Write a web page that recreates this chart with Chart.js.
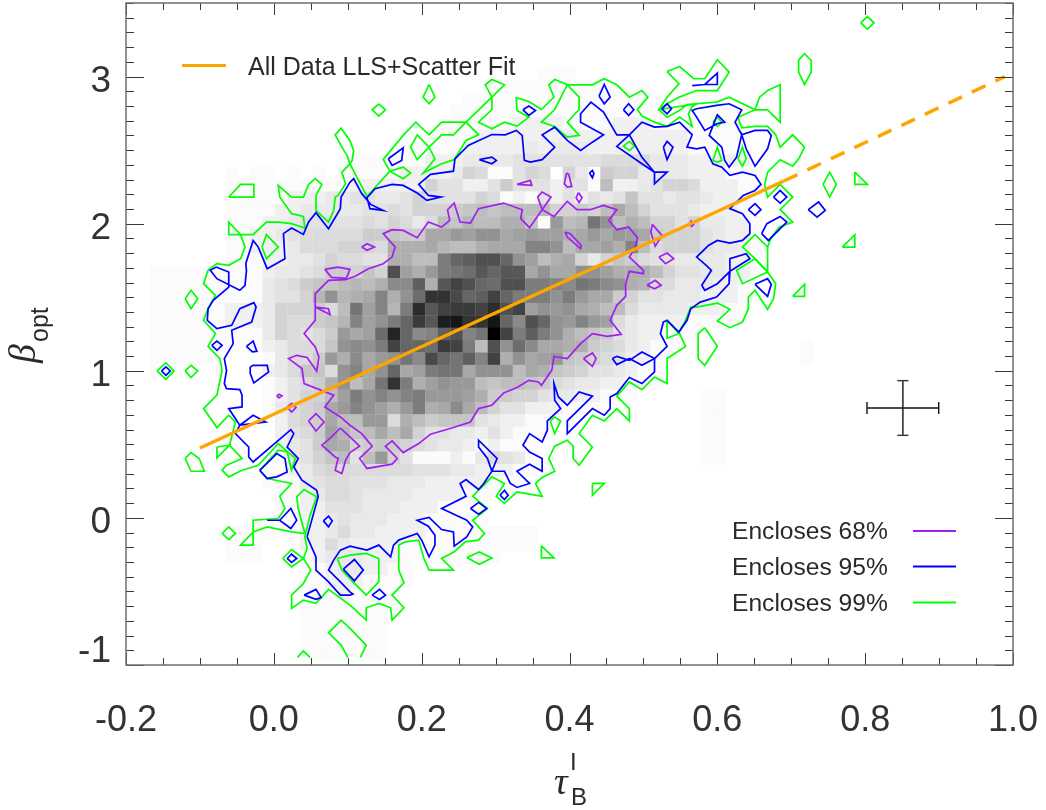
<!DOCTYPE html>
<html>
<head>
<meta charset="utf-8">
<title>Optical slope against Balmer optical depth</title>
<script src="https://cdn.jsdelivr.net/npm/chart.js@4/dist/chart.umd.js"></script>
<style>
  html, body { margin: 0; padding: 0; background: #fff; }
  canvas { display: block; }
</style>
</head>
<body>
<canvas id="chart" width="1046" height="810"></canvas>
<script>
// axis labels and ticks
var xMajorTicks = [-0.2, 0.0, 0.2, 0.4, 0.6, 0.8, 1.0];
var yMajorTicks = [-1, 0, 1, 2, 3];
var yTickLabels = ["-1", "0", "1", "2", "3"];
var yTickLabelAt = [-0.878, 0, 1, 2, 3]; // the -1 label sits above its tick in the original

// fit line and typical error bar
var fitSolid = [[-0.1, 0.475], [0.69, 2.29]];
var fitDashed = [[0.69, 2.29], [0.989, 3.0]];
var errCentre = [0.851, 0.747];
var errSize = [0.0485, 0.186];

// density image: darkness per bin, base 36, one row per beta bin, top row first
var densityXFirst = -0.159, densityXStep = 0.016925;
var densityYFirst = 3.018, densityYStep = -0.0842;
var densityRows = [
  "0000000000 0000000000 0000000000 0111000000 0000000000 0000",
  "0000000000 0000000000 0000000111 1111111111 0000000000 0000",
  "0000000000 0000000000 0000011111 1111111111 1111110000 0000",
  "0000000000 0000000000 0000111111 1111111111 1111111000 0000",
  "0000000000 0000000000 0001111112 2221111222 1111111000 0000",
  "0000000000 0000000000 0011112222 2222222222 2221111100 0000",
  "0000000000 0000000000 0111122222 3233322222 2221111100 0000",
  "0000000000 0000011111 1122233334 4444445555 3332222210 0000",
  "0000001011 0101011111 2222365114 6506307663 3332221110 0000",
  "0000001111 1111112222 2264422474 4424419223 4665222110 0000",
  "0000001111 1222334433 4644446512 1424243484 4344322100 0000",
  "0000001111 2233333445 4666789899 9966769c96 4443222100 0000",
  "0000001112 2344444546 53598a99bb 81e9ajf9b9 6646332210 0000",
  "0000001122 3455555778 77ccedffcd eddbcecedc 7666432210 0000",
  "0000001122 235556665b bbca99bccc hhf9ccdbh9 5666433210 0000",
  "0000001112 233465544b b99ilmoolf d9bc636875 4433332210 0000",
  "1111111112 334577686o dbeijknlnn cfccffdbbb 9644332210 0000",
  "1111111113 457889a9bg gmbnqolkoo iihgjigfba 5533322110 0000",
  "1111111113 446afabchb fkssplmqli iifiecc764 4333222110 0000",
  "1111112223 666759jdha itnqrrqtoq dfefcb9953 3332221100 0000",
  "1111112223 65578ahdfi lrnvwsswlg olfehed532 2221111000 0000",
  "1111111113 65457ecdku lghmohjzqi mifb987432 2111000000 0000",
  "1111111112 35558fgfiq llkrqi9ofk gccbb76532 1110000000 0010",
  "1111100001 3557ebgcef jgpljmhqbf cde8765422 1100000000 0010",
  "1000000012 35885fhcfl cdijjcfff9 cb87644321 1100000000 0000",
  "0000000001 2457bf9cjs ibdfee9899 8754332211 1000000000 0000",
  "0000000001 24669difhf hieeedb776 6433221110 0000110000 0000",
  "0000000001 3567cehfdb eibcgc9644 2221110000 0000110000 0000",
  "0000000001 2567c99ee5 b978884322 1111000000 0000110000 0000",
  "0000000000 2457da89c9 c644332421 1100000000 0000110000 0000",
  "0000000000 2347cb6787 6543321211 1000000000 0000110000 0000",
  "0000000000 13468949e6 4111213543 1000000000 0000110000 0000",
  "0000000001 1235655555 5444332221 1000000000 0000000000 0000",
  "0000000001 1134554443 3322222111 0000000000 0000000000 0000",
  "0000000000 1123554333 3222211110 0000000000 0000000000 0000",
  "0000000000 1122444333 2221111000 0000000000 0000000000 0000",
  "0000000011 1122343332 2211111000 0000000000 0000000000 0000",
  "0000001111 1122353322 2211111111 1000000000 0000000000 0000",
  "0000001110 0122532222 1111111111 1000000000 0000000000 0000",
  "0000001110 0112333222 1111111100 0000000000 0000000000 0000",
  "0000000000 0011233221 1000000000 0000000000 0000000000 0000",
  "0000000000 0011222111 1000000000 0000000000 0000000000 0000",
  "0000000000 0011121111 0000000000 0000000000 0000000000 0000",
  "0000000000 0011111111 0000000000 0000000000 0000000000 0000",
  "0000000000 0011111110 0000000000 0000000000 0000000000 0000",
  "0000000000 0011111110 0000000000 0000000000 0000000000 0000",
  "0000000000 0011111110 0000000000 0000000000 0000000000 0000",
  "0000000000 0011111110 0000000000 0000000000 0000000000 0000"
];

// contours, each a flat x,y,x,y list in data units
var purpleLoops = [
  [.128,1.694,.148,1.728,.160,1.773,.164,1.841,.148,1.932,.160,1.959,.175,1.954,.194,1.905,.209,2.011,.227,1.977,.238,2.022,.235,2.095,.244,2.140,.252,2.011,.266,2.004,.277,2.102,.311,2.140,.336,2.095,.334,2.034,.346,1.973,.363,2.095,.357,2.181,.363,2.215,.375,2.181,.363,2.095,.379,2.049,.397,2.151,.410,2.095,.428,2.095,.446,2.124,.464,2.095,.453,2.022,.464,1.959,.480,1.977,.492,1.905,.489,1.841,.481,1.773,.500,1.683,.500,1.660,.481,1.676,.476,1.592,.476,1.506,.464,1.445,.455,1.343,.470,1.248,.451,1.234,.431,1.253,.415,1.185,.397,1.083,.379,1.098,.376,1.003,.362,.901,.358,.924,.345,.935,.329,.886,.311,.849,.295,.766,.277,.743,.266,.652,.243,.614,.212,.569,.196,.505,.175,.444,.160,.523,.151,.487,.167,.404,.160,.365,.126,.336,.116,.404,.133,.487,.119,.573,.103,.630,.090,.686,.069,.754,.081,.834,.041,.913,.038,1.015,.020,1.083,.031,1.105,.045,1.090,.058,.997,.061,1.094,.056,1.162,.041,1.253,.056,1.343,.056,1.524,.074,1.615,.097,1.619,.110,1.642],
  [.069,1.689,.087,1.705,.103,1.689,.098,1.628,.078,1.635],
  [.090,.611,.103,.550,.116,.487,.103,.444,.097,.392,.092,.302,.083,.324,.087,.406,.083,.414,.065,.494,.076,.541],
  [.119,1.841,.126,1.864,.136,1.841,.126,1.819],
  [.329,2.267,.347,2.294,.349,2.260],
  [.396,2.344,.399,2.335,.403,2.253,.397,2.249,.393,2.272],
  [.412,2.211,.417,2.177,.413,2.143,.409,2.177],
  [.394,1.943,.401,1.932,.416,1.852,.415,1.830,.397,1.909],
  [.512,1.995,.525,1.920,.516,1.846,.510,1.943],
  [.521,1.773,.532,1.800,.541,1.762,.530,1.728],
  [.564,2.022,.568,1.995,.565,1.982],
  [.505,1.581,.516,1.615,.524,1.581,.515,1.558],
  [.419,1.083,.431,1.121,.436,1.083,.431,1.030],
  [.056,1.433,.074,1.422,.076,1.382],
  [.004,.829,.007,.840,.011,.829,.007,.815],
  [.018,.754,.024,.777,.030,.750,.024,.720],
  [.047,.659,.057,.709,.068,.652,.057,.591]
];

var blueLoops = [
  [.045,-.129,.060,.143,.058,.188,.038,.256,.027,.346,.033,.404,.018,.482,.027,.573,.023,.600,-.028,.380,-.034,.414,-.034,.482,-.052,.573,-.046,.630,-.061,.743,-.043,.754,-.043,.834,-.046,.872,-.064,.879,-.067,.913,-.064,1.003,-.067,1.083,-.055,1.185,-.057,1.275,-.030,1.331,-.024,1.433,-.027,1.463,-.046,1.422,-.057,1.309,-.077,1.287,-.090,1.343,-.089,1.422,-.082,1.479,-.061,1.569,-.061,1.671,-.078,1.705,-.086,1.683,-.077,1.626,-.046,1.547,-.039,1.581,-.037,1.683,-.038,1.728,-.028,1.886,-.021,1.841,-.009,1.694,.015,1.762,.013,1.932,.024,1.970,.040,1.927,.047,2.011,.057,2.075,.074,1.966,.090,2.102,.091,2.181,.103,2.282,.108,2.306,.119,2.204,.131,2.131,.148,2.090,.130,2.102,.126,2.176,.137,2.238,.160,2.267,.175,2.260,.194,2.208,.207,2.158,.226,2.181,.209,2.192,.196,2.267,.212,2.335,.243,2.357,.245,2.441,.263,2.532,.295,2.606,.313,2.604,.328,2.634,.336,2.600,.339,2.430,.347,2.418,.363,2.435,.380,2.520,.363,2.604,.380,2.656,.397,2.566,.415,2.498,.431,2.554,.446,2.604,.415,2.690,.415,2.747,.429,2.826,.446,2.758,.464,2.604,.481,2.604,.498,2.690,.515,2.656,.532,2.661,.549,2.690,.566,2.604,.559,2.520,.572,2.509,.583,2.520,.594,2.407,.606,2.384,.617,2.328,.634,2.350,.651,2.328,.659,2.267,.651,2.226,.635,2.192,.617,2.102,.634,2.068,.644,2.000,.644,1.932,.634,1.886,.617,1.868,.600,1.886,.588,1.852,.572,1.773,.585,1.717,.592,1.683,.579,1.581,.583,1.547,.600,1.592,.616,1.671,.617,1.762,.639,1.796,.644,1.762,.617,1.676,.616,1.592,.599,1.501,.577,1.467,.564,1.422,.559,1.343,.548,1.263,.532,1.343,.527,1.331,.523,1.253,.532,1.166,.515,1.083,.515,.992,.498,.913,.481,.954,.464,.845,.455,.822,.455,.743,.447,.698,.431,.743,.397,.573,.397,.659,.431,.827,.413,.856,.397,.766,.385,.822,.379,.913,.380,.800,.388,.743,.370,.659,.370,.596,.363,.516,.346,.573,.337,.494,.346,.448,.363,.404,.363,.317,.346,.365,.329,.317,.346,.234,.329,.207,.320,.234,.312,.317,.295,.317,.302,.404,.277,.528,.277,.482,.289,.404,.295,.317,.284,.234,.277,.193,.260,.261,.252,.234,.260,.147,.227,.064,.261,-.016,.269,-.061,.261,-.129,.255,-.151,.244,-.192,.243,-.095,.227,-.079,.210,.003,.194,-.016,.209,-.056,.218,-.118,.218,-.185,.210,-.265,.200,-.151,.194,-.106,.169,-.151,.162,-.185,.158,-.265,.142,-.185,.126,-.219,.103,-.192,.090,-.219,.081,-.287,.074,-.355,.090,-.435,.103,-.503,.107,-.518,.103,-.525,.090,-.525,.074,-.435,.057,-.355,.057,-.265],
  [.481,2.604,.464,2.525,.498,2.407,.515,2.350,.515,2.271,.532,2.350,.515,2.350,.498,2.452],
  [-.046,.630,-.028,.698,-.011,.652],
  [.572,2.781,.599,2.804,.616,2.815,.633,2.774,.624,2.690,.633,2.604,.651,2.634,.668,2.634,.673,2.600,.668,2.509,.651,2.391,.639,2.509,.633,2.604,.626,2.452,.616,2.384,.610,2.430,.606,2.520,.589,2.600,.600,2.740,.610,2.690,.600,2.681,.583,2.634,.572,2.724,.566,2.770],
  [.155,2.441,.175,2.516,.173,2.430,.160,2.396],
  [.278,2.435,.295,2.452,.301,2.430,.295,2.407],
  [.337,2.774,.345,2.799,.354,2.769,.345,2.736],
  [.440,2.867,.447,2.946,.455,2.860,.447,2.815],
  [.473,2.774,.480,2.815,.487,2.774,.480,2.736],
  [.525,2.781,.532,2.815,.538,2.781,.532,2.747],
  [.527,2.520,.532,2.559,.540,2.520,.532,2.435],
  [.427,2.344,.431,2.362,.433,2.340,.431,2.312],
  [.566,2.939,.583,2.946,.600,3.023,.600,2.946,.583,2.946],
  [.676,2.181,.685,2.226,.694,2.181,.685,2.140],
  [.642,2.095,.651,2.136,.659,2.095,.651,2.056],
  [.723,2.095,.737,2.147,.746,2.090,.735,2.045],
  [.660,1.932,.667,2.000,.685,2.049,.694,2.011,.669,1.886],
  [.651,1.588,.668,1.626,.673,1.588,.668,1.506],
  [.266,.064,.277,.105,.288,.064,.277,.025],
  [.306,.154,.312,.188,.317,.154,.312,.125],
  [.458,1.083,.464,1.098,.481,1.071,.498,1.128,.515,1.083,.498,1.038,.481,1.083,.464,1.042],
  [.094,-.348,.109,-.283,.121,-.355,.109,-.428],
  [.133,-.525,.143,-.486,.151,-.525,.143,-.554],
  [.018,-.276,.024,-.247,.031,-.276,.024,-.303],
  [.041,-.525,.057,-.486,.064,-.541,.057,-.554],
  [-.019,.323,.004,.437,.015,.404,.018,.312,.004,.279,-.009,.268],
  [-.009,-.016,.008,-.016,.023,.064,.031,-.016,.023,-.072,.008,-.016],
  [.067,-.020,.074,.012,.079,-.020,.074,-.061],
  [-.032,1.026,-.028,1.037,-.009,1.037,-.007,.992,-.027,.917,-.032,.983],
  [-.037,1.166,-.028,1.202,-.023,1.132,-.029,1.128],
  [-.084,1.173,-.077,1.202,-.070,1.173,-.077,1.139],
  [-.152,.999,-.146,1.026,-.140,.999,-.146,.969]
];

var greenLoops = [
  [-.089,1.683,-.095,1.592,-.079,1.513,-.089,1.422,-.095,1.343,-.079,1.253,-.089,1.166,-.073,1.083,-.070,1.003,-.077,.834,-.095,.743,-.077,.614,-.061,.698,-.052,.652,-.060,.494,-.043,.404,-.064,.358,-.070,.324,-.061,.279,-.043,.324,-.021,.358,.006,.505,.029,.404,.024,.324,.018,.448,.006,.460,-.019,.324,-.009,.268,.024,.234,.008,.147,.015,.064,.006,-.004,-.028,-.016,-.028,-.185,-.045,-.185,-.028,-.095,-.009,-.061,.024,-.095,.042,-.106,.033,.064,.031,.143,.041,.193,.058,.143,.049,.018,.042,-.129,.045,-.208,.040,-.276,.050,-.355,.040,-.446,.024,-.525,.024,-.615,.040,-.559,.057,-.581,.074,-.486,.103,-.593,.108,-.615,.125,-.695,.125,-.611,.142,-.581,.158,-.611,.160,-.695,.176,-.611,.160,-.525,.176,-.442,.169,-.355,.169,-.185,.178,-.163,.196,-.151,.203,-.276,.210,-.355,.243,-.355,.227,-.276,.244,-.231,.259,-.163,.277,-.151,.285,-.106,.269,-.016,.289,.064,.269,.147,.295,.279,.312,.234,.301,.147,.312,.098,.329,.177,.363,.147,.354,.234,.363,.274,.380,.317,.372,.404,.380,.487,.397,.528,.405,.487,.405,.404,.413,.358,.431,.482,.413,.573,.431,.698,.447,.659,.464,.743,.481,.659,.481,.743,.464,.827,.481,.924,.498,.872,.515,.958,.532,.913,.532,1.083,.557,1.166,.548,1.263,.557,1.343,.564,1.433,.572,1.433,.600,1.460,.617,1.418,.600,1.338,.617,1.293,.634,1.331,.642,1.422,.642,1.501,.651,1.547,.668,1.418,.676,1.490,.679,1.592,.668,1.671,.651,1.762,.634,1.841,.651,1.925,.668,1.841,.673,1.907,.684,1.977,.702,2.011,.685,2.095,.702,2.181,.685,2.267,.668,2.181,.664,2.267,.668,2.350,.685,2.435,.702,2.391,.710,2.441,.718,2.520,.702,2.604,.685,2.520,.679,2.604,.668,2.661,.651,2.661,.633,2.652,.628,2.724,.651,2.774,.668,2.774,.685,2.690,.685,2.944,.668,2.905,.657,2.860,.651,2.774,.616,2.860,.599,2.826,.572,2.815,.566,2.797,.561,2.747,.566,2.661,.549,2.724,.532,2.661,.515,2.690,.498,2.731,.492,2.776,.506,2.860,.498,2.905,.481,2.860,.464,2.944,.447,2.985,.431,2.944,.397,2.944,.413,2.860,.413,2.776,.397,2.690,.413,2.600,.397,2.588,.380,2.661,.362,2.690,.380,2.776,.397,2.944,.380,2.980,.372,2.944,.379,2.860,.362,2.776,.345,2.831,.328,2.856,.329,2.770,.345,2.724,.329,2.663,.312,2.690,.295,2.645,.277,2.690,.295,2.776,.295,2.860,.286,2.944,.295,2.980,.312,2.944,.295,2.860,.260,2.690,.227,2.690,.210,2.604,.192,2.690,.175,2.600,.148,2.437,.157,2.357,.126,2.185,.110,2.339,.103,2.407,.092,2.350,.097,2.272,.087,2.192,.083,2.181,.081,2.090,.074,2.011,.057,2.090,.057,2.192,.065,2.267,.056,2.306,.047,2.267,.040,2.181,.024,2.181,.006,2.260,.008,2.181,.024,2.068,.040,2.049,.042,1.970,.024,2.000,.006,2.011,-.010,2.011,-.028,1.925,-.061,1.925,-.061,2.011,-.045,1.925,-.039,1.841,-.045,1.762,-.061,1.717,-.077,1.728],
  [.103,2.407,.099,2.464,.092,2.520,.083,2.604,.091,2.649,.103,2.564,.108,2.498,.106,2.430],
  [.260,2.690,.277,2.604,.260,2.566,.244,2.435,.227,2.407,.202,2.344,.218,2.441,.210,2.520,.194,2.604,.185,2.520,.194,2.435,.210,2.520,.227,2.604,.243,2.604],
  [.157,2.357,.175,2.384,.185,2.344,.175,2.306],
  [.532,3.034,.549,3.068,.568,2.985,.583,2.985,.600,3.114,.616,3.030,.600,2.905,.572,2.905,.548,2.860,.532,2.815,.521,2.776,.532,2.724,.549,2.770,.559,2.810,.572,2.815,.521,2.776,.532,2.860,.548,2.951],
  [.142,2.815,.151,2.774,.142,2.731,.133,2.774],
  [.210,2.946,.218,2.860,.210,2.815,.202,2.860],
  [.481,2.559,.488,2.527,.481,2.498,.473,2.527],
  [.794,3.365,.803,3.408,.812,3.365,.803,3.322],
  [.710,3.114,.718,3.155,.727,3.109,.727,3.030,.718,2.946,.710,3.030],
  [.743,2.267,.752,2.350,.761,2.267,.752,2.181],
  [.786,2.350,.803,2.267,.786,2.267],
  [.769,1.841,.786,1.925,.786,1.841],
  [.594,2.430,.600,2.520,.606,2.430,.600,2.418],
  [.628,2.441,.634,2.520,.639,2.441,.634,2.391],
  [.594,2.690,.600,2.724,.606,2.690,.600,2.661],
  [-.061,2.181,-.045,2.267,-.027,2.267,-.027,2.181],
  [-.016,1.841,-.010,1.925,.006,1.841,-.010,1.762],
  [-.120,1.490,-.112,1.547,-.103,1.490,-.112,1.422],
  [-.120,.404,-.112,.444,-.101,.404,-.094,.317,-.112,.317],
  [.012,-.276,.024,-.215,.040,-.276,.024,-.333],
  [-.070,-.106,-.061,-.061,-.052,-.106,-.061,-.147],
  [-.158,.999,-.146,1.053,-.135,.999,-.146,.942],
  [-.120,.999,-.112,1.037,-.103,.999,-.112,.954],
  [-.077,.482,-.060,.494,-.077,.408],
  [.374,.659,.380,.686,.388,.659,.380,.573],
  [.431,.234,.447,.234,.431,.154],
  [.702,1.506,.718,1.588,.718,1.506],
  [.583,1.293,.600,1.166,.583,1.037,.574,1.083,.574,1.253],
  [.261,-.269,.278,-.231,.295,-.272,.278,-.315],
  [.362,-.190,.379,-.272,.362,-.272],
  [.086,-.276,.103,-.253,.125,-.242,.142,-.276,.142,-.435,.125,-.525,.107,-.435,.092,-.355],
  [.651,1.762,.626,1.683,.634,1.592,.668,1.671,.668,1.841,.668,1.671],
  [.532,1.343,.532,1.221,.548,1.254]
];

var greenOpen = [
  [.100,-.948,.091,-.865,.074,-.781,.091,-.695,.103,-.751,.125,-.865,.117,-.948],
  [.032,-.948,.040,-.905,.049,-.948]
];

var ORANGE = "#ffa500", PURPLE = "#a020f0", BLUE = "#0000ff", GREEN = "#00ff00";
var TEXT = "#2a2a2a", AXIS = "#6e6e6e", TICK = "#3a3a3a";
var SANS = '"Liberation Sans", Arial, sans-serif';
var SERIF = '"Liberation Serif", "Times New Roman", serif';

function densityPoints() {
  var pts = [], colors = [];
  densityRows.forEach(function (row, r) {
    row.replace(/ /g, "").split("").forEach(function (c, i) {
      var level = parseInt(c, 36);
      if (!level) return;
      // the palest bins are barely off white in the original
      var g = level === 1 ? 251 : 255 - Math.round(level * 255 / 35);
      pts.push({ x: densityXFirst + i * densityXStep, y: densityYFirst + r * densityYStep });
      colors.push("rgb(" + g + "," + g + "," + g + ")");
    });
  });
  return { type: "scatter", data: pts, pointStyle: "rect", pointRadius: 9, pointHoverRadius: 9,
    pointBorderWidth: 0, pointBackgroundColor: colors, showLine: false, order: 10 };
}

function pathDataset(flat, closed, color, order) {
  var pts = [];
  for (var i = 0; i < flat.length; i += 2) pts.push({ x: flat[i], y: flat[i + 1] });
  if (closed) pts.push(pts[0]);
  return lineDataset(pts, color, 1.7, order);
}

function lineDataset(pts, color, width, order, dash) {
  return { type: "scatter", data: pts, showLine: true, fill: false, tension: 0, pointRadius: 0,
    borderColor: color, borderWidth: width, borderDash: dash || [], order: order };
}

function pairs(list) {
  return list.map(function (p) { return { x: p[0], y: p[1] }; });
}

var datasets = [densityPoints()];
greenLoops.forEach(function (p) { datasets.push(pathDataset(p, true, GREEN, 4)); });
greenOpen.forEach(function (p) { datasets.push(pathDataset(p, false, GREEN, 4)); });
blueLoops.forEach(function (p) { datasets.push(pathDataset(p, true, BLUE, 3)); });
purpleLoops.forEach(function (p) { datasets.push(pathDataset(p, true, PURPLE, 2)); });
datasets.push(lineDataset(pairs(fitSolid), ORANGE, 3.5, 1));
datasets.push(lineDataset(pairs(fitDashed), ORANGE, 3.5, 1, [15, 11]));

// error bar cross with its end caps
var ex = errCentre[0], ey = errCentre[1], edx = errSize[0], edy = errSize[1];
var capX = 0.0075, capY = 0.04;
datasets.push(lineDataset(pairs([[ex - edx, ey], [ex + edx, ey]]), "#111", 1.4, 0));
datasets.push(lineDataset(pairs([[ex - edx, ey - capY], [ex - edx, ey + capY]]), "#111", 1.4, 0));
datasets.push(lineDataset(pairs([[ex + edx, ey - capY], [ex + edx, ey + capY]]), "#111", 1.4, 0));
datasets.push(lineDataset(pairs([[ex, ey - edy], [ex, ey + edy]]), "#444", 1.8, 0));
datasets.push(lineDataset(pairs([[ex - capX, ey + edy], [ex + capX, ey + edy]]), "#333", 1.4, 0));
datasets.push(lineDataset(pairs([[ex - capX, ey - edy], [ex + capX, ey - edy]]), "#333", 1.4, 0));

function text(ctx, str, x, y, font, color) {
  ctx.font = font;
  ctx.fillStyle = color || TEXT;
  ctx.textAlign = "left";
  ctx.textBaseline = "alphabetic";
  ctx.fillText(str, x, y);
}

function legendRow(ctx, label, x, y, x0, x1, ly, color, width) {
  text(ctx, label, x, y, "24.6px " + SANS);
  ctx.strokeStyle = color;
  ctx.lineWidth = width;
  ctx.beginPath();
  ctx.moveTo(x0, ly);
  ctx.lineTo(x1, ly);
  ctx.stroke();
}

function noScalePadding(axis) {
  axis.paddingLeft = axis.paddingRight = axis.paddingTop = axis.paddingBottom = 0;
}

var framePlugin = {
  id: "frame",
  afterDraw: function (chart) {
    var ctx = chart.ctx, a = chart.chartArea, xs = chart.scales.x, ys = chart.scales.y;
    var i, v, p, len;
    ctx.save();

    ctx.strokeStyle = TICK;
    ctx.lineWidth = 1;
    ctx.beginPath();
    for (i = 0; i <= 24; i++) {
      v = -0.2 + i * 0.05;
      p = Math.round(xs.getPixelForValue(v)) + 0.5;
      len = i % 4 === 0 ? 12 : 7;
      ctx.moveTo(p, a.bottom); ctx.lineTo(p, a.bottom - len);
      ctx.moveTo(p, a.top); ctx.lineTo(p, a.top + len);
    }
    for (i = 0; i <= 45; i++) {
      v = -1 + i * 0.1;
      p = Math.round(ys.getPixelForValue(v)) + 0.5;
      len = i % 10 === 0 ? 18 : 8;
      ctx.moveTo(a.left, p); ctx.lineTo(a.left + len, p);
      ctx.moveTo(a.right, p); ctx.lineTo(a.right - len, p);
    }
    ctx.stroke();

    ctx.strokeStyle = AXIS;
    ctx.lineWidth = 1.5;
    ctx.strokeRect(a.left, a.top, a.right - a.left, a.bottom - a.top);

    // y title
    ctx.save();
    ctx.translate(35, 363);
    ctx.rotate(-Math.PI / 2);
    text(ctx, "β", 0, 0, "italic 38px " + SERIF);
    ctx.restore();
    ctx.save();
    ctx.translate(48, 342);
    ctx.rotate(-Math.PI / 2);
    text(ctx, "opt", 0, 0, "25px " + SANS);
    ctx.restore();

    // x title
    text(ctx, "τ", 554, 794, "italic 38px " + SERIF);
    text(ctx, "B", 571, 805, "24px " + SANS);
    text(ctx, "I", 570, 770, "24px " + SANS);

    // legends
    text(ctx, "All Data LLS+Scatter Fit", 248, 75, "25px " + SANS);
    ctx.strokeStyle = ORANGE;
    ctx.lineWidth = 3;
    ctx.beginPath();
    ctx.moveTo(182, 65.5);
    ctx.lineTo(226, 65.5);
    ctx.stroke();
    legendRow(ctx, "Encloses 68%", 732, 539, 913, 956, 531, PURPLE, 2);
    legendRow(ctx, "Encloses 95%", 732, 575, 913, 956, 566.5, BLUE, 2);
    legendRow(ctx, "Encloses 99%", 732, 611, 913, 956, 602.5, GREEN, 2);

    ctx.restore();
  }
};

new Chart(document.getElementById("chart").getContext("2d"), {
  type: "scatter",
  data: { datasets: datasets },
  plugins: [framePlugin],
  options: {
    responsive: false,
    animation: false,
    events: [],
    layout: { autoPadding: false, padding: { top: 3, right: 33, left: 0, bottom: 0 } },
    plugins: { legend: { display: false }, title: { display: false }, tooltip: { enabled: false } },
    scales: {
      x: {
        type: "linear",
        min: -0.2,
        max: 1.0,
        afterBuildTicks: function (axis) {
          axis.ticks = xMajorTicks.map(function (v) { return { value: v }; });
        },
        afterFit: function (axis) { axis.height = 145; noScalePadding(axis); },
        grid: { display: false, drawTicks: false },
        border: { display: false },
        ticks: {
          autoSkip: false,
          maxRotation: 0,
          padding: 34,
          color: "#333",
          font: { family: SANS, size: 36 },
          callback: function (v) { return Number(v).toFixed(1); }
        }
      },
      y: {
        type: "linear",
        min: -1,
        max: 3.5,
        afterBuildTicks: function (axis) {
          axis.ticks = yTickLabelAt.map(function (v) { return { value: v }; });
        },
        afterFit: function (axis) { axis.width = 126; noScalePadding(axis); },
        grid: { display: false, drawTicks: false },
        border: { display: false },
        ticks: {
          autoSkip: false,
          padding: 15,
          labelOffset: 5,
          color: "#333",
          font: { family: SANS, size: 37 },
          callback: function (v, i) { return yTickLabels[i]; }
        }
      }
    }
  }
});
</script>
</body>
</html>
